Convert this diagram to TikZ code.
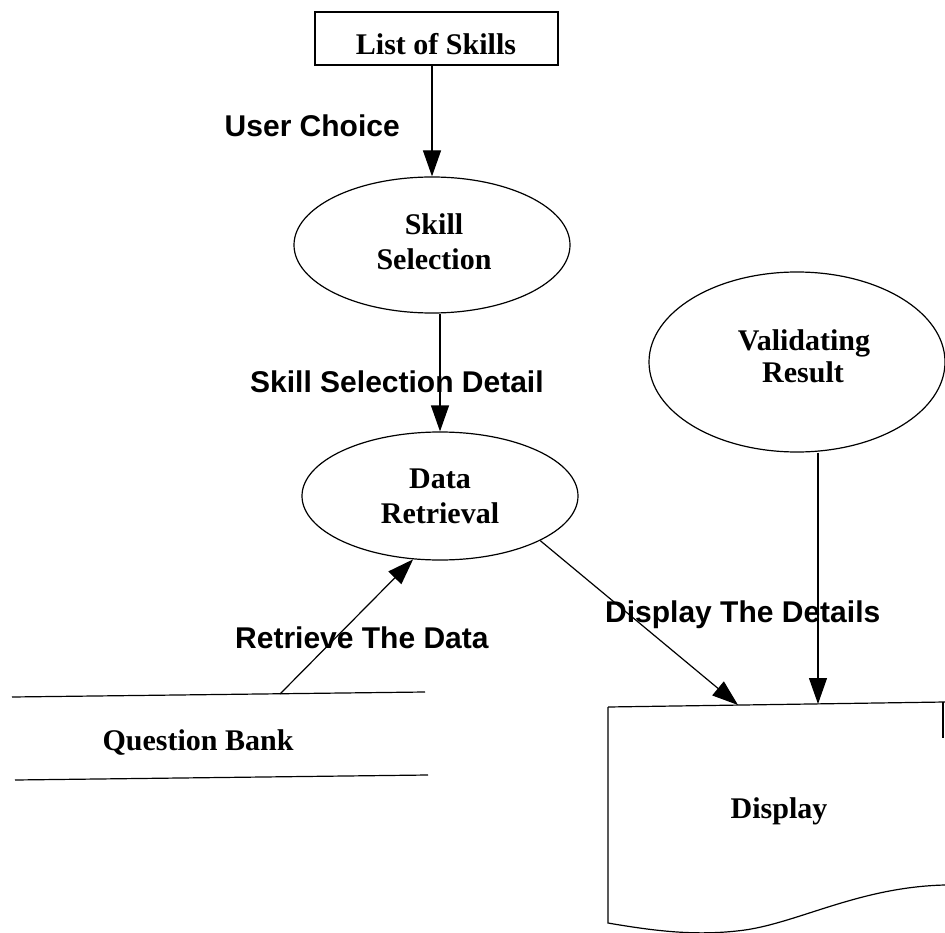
\documentclass[tikz,border=0pt]{standalone}
\usepackage{fontspec}
\setmainfont{Liberation Serif}
\setsansfont{Liberation Sans}
\usetikzlibrary{arrows.meta,shapes.geometric}
\begin{document}
\begin{tikzpicture}[x=1pt,y=-1pt,
  ln/.style={line width=1.2pt},
  arr/.style={ln,-{Triangle[length=26pt,width=18pt]}},
  proc/.style={ellipse,draw,ln,inner sep=0pt},
  ntext/.style={font=\bfseries\fontsize{30}{34}\selectfont,inner sep=0pt},
  elab/.style={font=\sffamily\bfseries\fontsize{30}{36}\selectfont,inner sep=0pt},
]
\useasboundingbox (0,0) rectangle (945,933);
\fill[white] (0,0) rectangle (945,933);

% List of Skills
\node[draw,ln,minimum width=243pt,minimum height=53pt,inner sep=0pt] (ls) at (436.5,38.5) {};
\node[ntext,anchor=base] (lst) at (436,55) {List of Skills};

% Skill Selection
\node[proc,minimum width=276pt,minimum height=136pt] (ss) at (432,245) {};
\node[ntext,anchor=base] (ss1) at (434,235) {Skill};
\node[ntext,anchor=base] (ss2) at (434,270) {Selection};

% Data Retrieval
\node[proc,minimum width=276pt,minimum height=128pt] (dr) at (440,496) {};
\node[ntext,anchor=base] (dr1) at (440,488) {Data};
\node[ntext,anchor=base] (dr2) at (440,523) {Retrieval};

% Validating Result
\node[proc,minimum width=296pt,minimum height=180pt] (vr) at (797,362) {};
\node[ntext,anchor=base] (vr1) at (804,350) {Validating};
\node[ntext,anchor=base] (vr2) at (803,382) {Result};

% Question Bank (data store)
\draw[ln] (12,697) -- (425,692);
\draw[ln] (15,780) -- (428,775);
\node[ntext,anchor=base] (qb) at (198,750) {Question Bank};
\coordinate (qbo) at (280,694);

% Display (document)
\draw[ln] (608,707) -- (945,702);
\draw[ln] (943,702) -- (943,738);
\draw[ln] (608,707) -- (608,923) .. controls (660,932) and (700,936) .. (745,930)
  .. controls (800,922) and (860,887) .. (945,885);
\node[ntext,anchor=base] (dp) at (779,818) {Display};
\coordinate (d1) at (738,705);
\coordinate (d2) at (818,704);

% connectors
\draw[arr] (ls.south -| ss.north) -- (ss.north);
\draw[arr] (ss.south -| dr.north) -- (dr.north);
\draw[arr] (qbo) -- (dr.247);
\draw[arr] (dr.336) -- (d1);
\draw[arr] (vr.south -| d2) -- (d2);

% labels
\node[elab,anchor=base east] (l1) at (400,137) {User Choice};
\node[elab,anchor=base west] (l2) at (250,392) {Skill Selection Detail};
\node[elab,anchor=base west] (l3) at (235,648) {Retrieve The Data};
\node[elab,anchor=base west] (l4) at (605,622) {Display The Details};
\end{tikzpicture}
\end{document}
